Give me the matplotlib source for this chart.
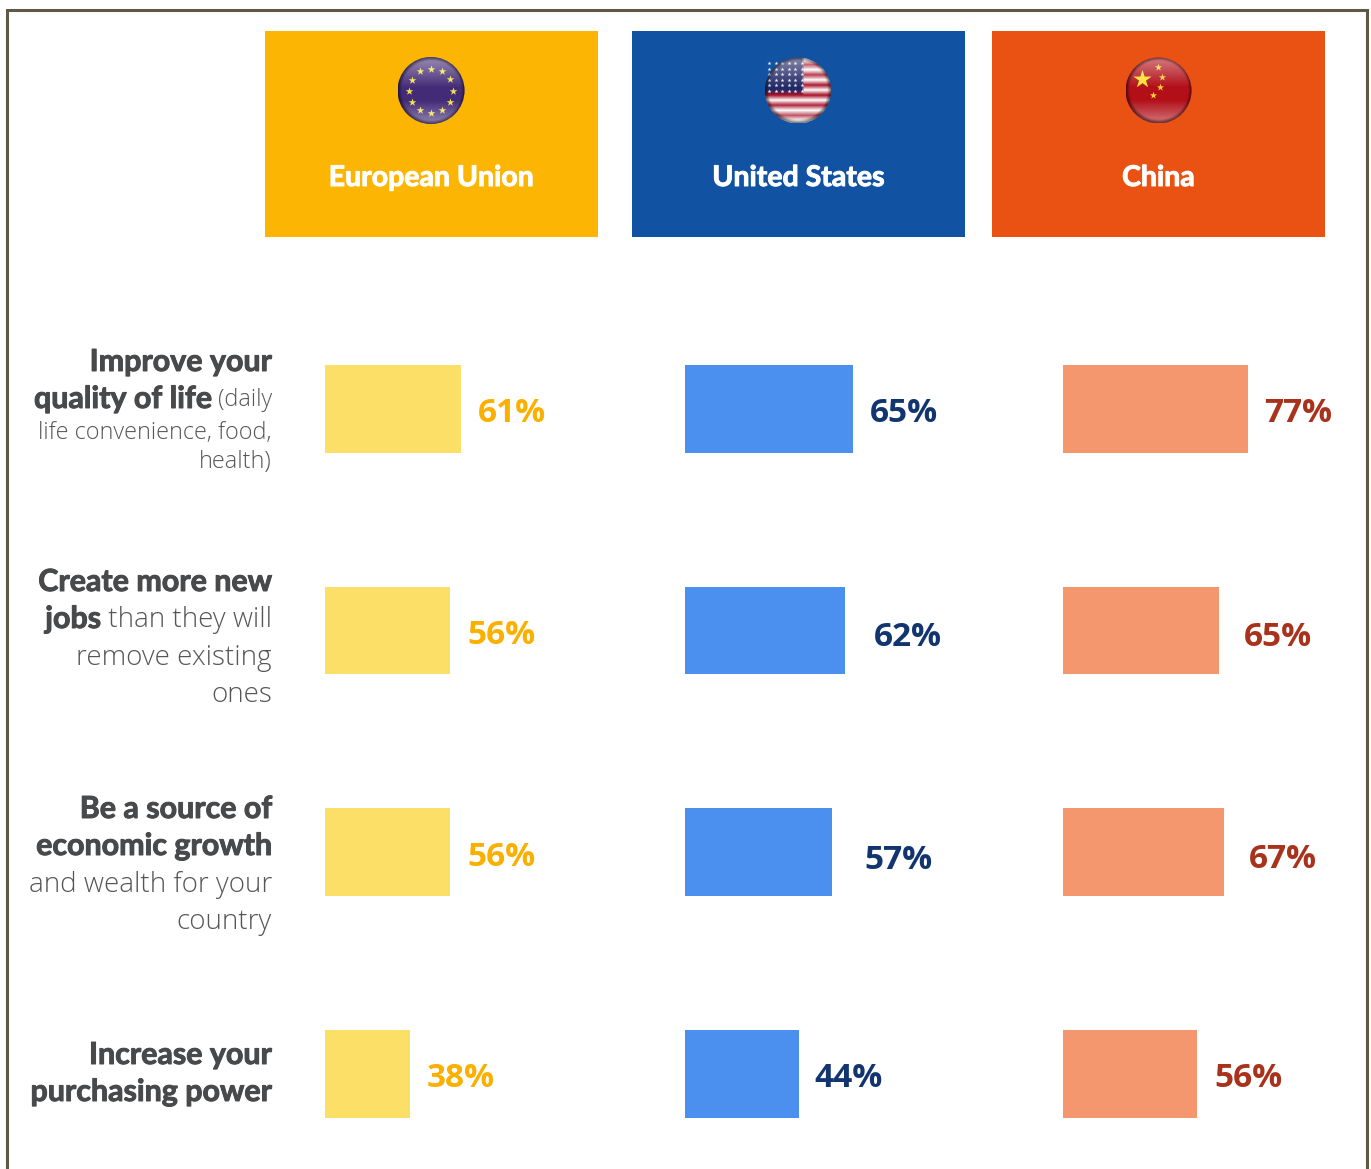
import numpy as np
import matplotlib
matplotlib.use("Agg")
import matplotlib.pyplot as plt
import matplotlib.patheffects as pe
from matplotlib.patches import Circle, Rectangle

W, H = 1371, 1169

regions = ["European Union", "United States", "China"]
eu_values = [61, 56, 56, 38]
us_values = [65, 62, 57, 44]
cn_values = [77, 65, 67, 56]

header_colors = ["#fdb504", "#1252a3", "#e95212"]
bar_colors = ["#fcdf66", "#4b90ef", "#f4966e"]
label_colors = ["#fbb000", "#12356f", "#a9321c"]

# extra gap between bar end and its label, it is not the same in every cell
eu_gaps = [17, 17, 17, 17]
us_gaps = [17, 29, 32, 16]
cn_gaps = [16, 25, 25, 17]
us_drop = [0, 2, 3, 0]
cn_drop = [0, 2, 2, 0]

# (text, bold) pieces per line
row_labels = [
    [[("Improve your", True)],
     [("quality of life", True), (" (daily", False)],
     [("life convenience, food,", False)],
     [("health)", False)]],
    [[("Create more new", True)],
     [("jobs", True), (" than they will", False)],
     [("remove existing", False)],
     [("ones", False)]],
    [[("Be a source of", True)],
     [("economic growth", True)],
     [("and wealth for your", False)],
     [("country", False)]],
    [[("Increase your", True)],
     [("purchasing power", True)]],
]
# y of each text line
label_lines = [
    [362, 399, 432, 461],
    [582, 619, 657, 694],
    [809, 846, 884, 921],
    [1055, 1092],
]
small_lines = {(0, 1), (0, 2), (0, 3)}

plt.rcParams["font.family"] = ["Open Sans", "DejaVu Sans"]
BOLD_FONT = ["Lato", "Open Sans", "DejaVu Sans"]

fig = plt.figure(figsize=(W / 100, H / 100), dpi=100, facecolor="white")

# pixel canvas for the frame, headers and row text
bg = fig.add_axes([0, 0, 1, 1])
bg.axis("off")

frame = "#5e5846"
bg.plot([7, 7, 1367, 1367], [1169, 9.5, 9.5, 1169], color=frame, lw=2.2, solid_joinstyle="miter")

header_x = [265, 632, 992]
for i, name in enumerate(regions):
    bg.add_patch(Rectangle((header_x[i], 31), 333, 206, color=header_colors[i], lw=0))
    t = bg.text(header_x[i] + 166.5, 178, name, color="white", fontsize=20.5, fontweight="bold",
                family=BOLD_FONT, ha="center", va="center")
    t.set_path_effects([pe.withStroke(linewidth=0.7, foreground="white")])


def sphere(cx, cy, r, base):
    # flag picture, then a glossy shade on top
    n = 80
    yy, xx = np.mgrid[-1:1:n * 1j, -1:1:n * 1j]
    rr = np.sqrt(xx ** 2 + yy ** 2)
    box = (cx - r, cx + r, cy + r, cy - r)
    im = bg.imshow(base, extent=box, zorder=3, interpolation="bilinear", aspect="auto")
    im.set_clip_path(Circle((cx, cy), r, transform=bg.transData))
    shade = np.zeros((n, n, 4))
    shade[..., :3] = 1
    shade[..., 3] = np.clip((-yy - 0.08) * 0.5, 0, 0.4) + np.clip((yy - 0.3) * 0.6, 0, 0.35)
    s = bg.imshow(shade, extent=box, zorder=5, interpolation="bilinear", aspect="auto")
    s.set_clip_path(Circle((cx, cy), r, transform=bg.transData))
    edge = np.zeros((n, n, 4))
    edge[..., 3] = np.clip((rr - 0.9) * 5, 0, 0.5)
    e = bg.imshow(edge, extent=box, zorder=6, interpolation="bilinear", aspect="auto")
    e.set_clip_path(Circle((cx, cy), r, transform=bg.transData))


# EU flag
sphere(431, 90.5, 33.5, np.full((8, 8, 3), [0.27, 0.17, 0.47]))
ang = np.deg2rad(np.arange(0, 360, 30))
bg.scatter(431 + 22 * np.cos(ang), 90.5 + 22 * np.sin(ang), marker="*", s=34, color="#f0e34d", lw=0, zorder=4)

# US flag
stripes = np.ones((13, 26, 3))
stripes[1::2] = [0.66, 0.07, 0.16]
stripes[:7, :15] = [0.13, 0.16, 0.40]
sphere(798, 90.5, 33, stripes)
star_x, star_y = np.meshgrid(np.arange(769, 802, 6.5), np.arange(63, 92, 5.5))
bg.scatter(star_x.ravel(), star_y.ravel(), marker="*", s=9, color="#e8e8f2", lw=0, zorder=4)

# China flag
sphere(1158.5, 90.5, 33, np.full((8, 8, 3), [0.70, 0.06, 0.1]))
bg.scatter([1142], [79], marker="*", s=190, color="#fde02a", lw=0, zorder=4)
bg.scatter([1158, 1162, 1160, 1153], [67, 77, 87, 95], marker="*", s=30, color="#fbd52c", lw=0, zorder=4)
bg.set_xlim(0, W)
bg.set_ylim(H, 0)

# row text, right aligned, pieces are placed from the right edge
fig.canvas.draw()
renderer = fig.canvas.get_renderer()
text_right = 272
for r, lines in enumerate(row_labels):
    for l, pieces in enumerate(lines):
        x = text_right
        y = label_lines[r][l]
        small = (r, l) in small_lines
        for txt, bold in reversed(pieces):
            if bold:
                t = bg.text(x, y, txt, color="#48494b", fontsize=21.9, fontweight="bold",
                            family=BOLD_FONT, ha="right", va="center")
                t.set_path_effects([pe.withStroke(linewidth=0.7, foreground="#48494b")])
            else:
                t = bg.text(x, y + 1, txt, color="#555658", fontsize=16.8 if small else 20, fontweight="light",
                            ha="right", va="center")
            x -= t.get_window_extent(renderer).width

# one axes per region, each has its own length scale as in the source
panel_left = [325, 685.2, 1063]
panel_width = [223, 258, 240]
values = [eu_values, us_values, cn_values]
gaps = [eu_gaps, us_gaps, cn_gaps]
drops = [[0, 0, 0, 0], us_drop, cn_drop]
y_pos = np.arange(4)
row_px = 221.6
top_px = 409 - row_px / 2

for i in range(3):
    ax = fig.add_axes([panel_left[i] / W, 1 - (top_px + 4 * row_px) / H, panel_width[i] / W, 4 * row_px / H])
    ax.patch.set_alpha(0)
    ax.barh(y_pos, values[i], height=87.6 / row_px, color=bar_colors[i], lw=0)
    ax.set_xlim(0, 100)
    ax.set_ylim(3.5, -0.5)
    ax.axis("off")
    for j, v in enumerate(values[i]):
        ax.annotate(f"{v}%", (v, j), xytext=(gaps[i][j] * 0.72, (-5 - drops[i][j]) * 0.72), textcoords="offset points",
                    color=label_colors[i], fontsize=24, fontweight="bold", ha="left", va="center",
                    annotation_clip=False)

fig.savefig("out.png", dpi=100, facecolor="white")
